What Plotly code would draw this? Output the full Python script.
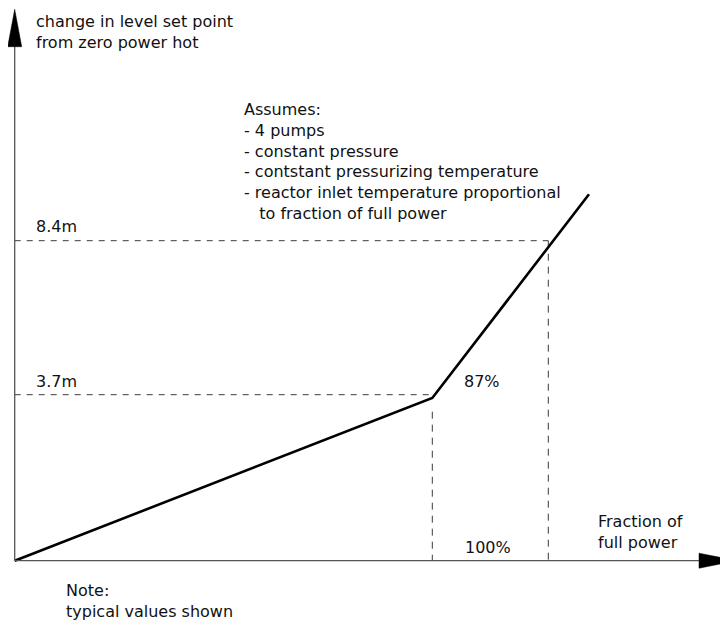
import plotly.graph_objects as go

PAGE_OFF = 8           # default body margin of the html page
W, H = 728 - PAGE_OFF, 621 - PAGE_OFF
OX, OY = 14.7, 560.7   # page-pixel position of the diagram origin

# ---- schematic data (chart units, 1 unit = 1 px from origin) ----
curve_x = [0, 417.6, 574.3]
curve_y = [0, 162.7, 366.4]

level_labels = ["3.7m", "8.4m"]
level_y = [166.0, 320.0]
level_x_end = [414.5, 533.6]

power_labels = ["87%", "100%"]
power_x = [417.6, 533.6]
power_y_top = [149.0, 320.0]

y_title = "change in level set point<br>from zero power hot"
x_title = "Fraction of<br>full power"
assumes = ("Assumes:<br>- 4 pumps<br>- constant pressure<br>- contstant pressurizing temperature"
           "<br>- reactor inlet temperature proportional<br>\u00a0\u00a0\u00a0to fraction of full power")
note = "Note:<br>typical values shown"

FONT = dict(family="DejaVu Sans", size=16, color="#111111")
DASH_COL = "#3a3a3a"
AXIS_COL = "#555555"


def dx(px):
    return px - OX


def dy(py):
    return OY - py


fig = go.Figure()

# dashed reference lines (horizontal levels)
for ly, xe in zip(level_y, level_x_end):
    fig.add_trace(go.Scatter(x=[0, xe], y=[ly, ly], mode="lines",
                             line=dict(color=DASH_COL, width=1, dash="6px,6px"),
                             hoverinfo="skip", showlegend=False))
# dashed reference lines (vertical power fractions)
for px_, pt in zip(power_x, power_y_top):
    fig.add_trace(go.Scatter(x=[px_, px_], y=[pt, 0], mode="lines",
                             line=dict(color=DASH_COL, width=1, dash="7px,6px"),
                             hoverinfo="skip", showlegend=False))

# main curve
fig.add_trace(go.Scatter(x=curve_x, y=curve_y, mode="lines",
                         line=dict(color="black", width=2.6),
                         hoverinfo="skip", showlegend=False))

shapes = [
    dict(type="line", x0=0, y0=0, x1=0, y1=dy(46), xref="x", yref="y",
         line=dict(color=AXIS_COL, width=1.3)),
    dict(type="line", x0=0, y0=0, x1=dx(700), y1=0, xref="x", yref="y",
         line=dict(color=AXIS_COL, width=1.3)),
    dict(type="path", xref="x", yref="y",
         path=f"M -7,{dy(46.7)} L 0,{dy(9.3)} L 7,{dy(46.7)} Z",
         fillcolor="black", line=dict(color="black", width=0.5)),
    dict(type="path", xref="x", yref="y",
         path=f"M {dx(699)},7.5 L {dx(737)},0 L {dx(699)},-7.5 Z",
         fillcolor="black", line=dict(color="black", width=0.5)),
]

ann = []


def label(text, px, py, yanchor="middle"):
    ann.append(dict(text=text, x=dx(px), y=dy(py), xref="x", yref="y",
                    xanchor="left", yanchor=yanchor, showarrow=False,
                    align="left", font=FONT))


label(y_title, 34, 31.5)
label(assumes, 242, 161.5)
label(level_labels[1], 34, 226.5)
label(level_labels[0], 34, 381.5)
label(power_labels[0], 462, 381.5)
label(power_labels[1], 463, 547.5)
label(x_title, 596, 531.5)
label(note, 64, 600.5)

fig.update_layout(
    width=W, height=H,
    margin=dict(l=0, r=0, t=0, b=0),
    paper_bgcolor="white", plot_bgcolor="white",
    xaxis=dict(range=[-(OX - PAGE_OFF), W - (OX - PAGE_OFF)], visible=False, fixedrange=True),
    yaxis=dict(range=[(OY - PAGE_OFF) - H, OY - PAGE_OFF], visible=False, fixedrange=True),
    shapes=shapes, annotations=ann, showlegend=False,
)

fig.write_html("out.html")
